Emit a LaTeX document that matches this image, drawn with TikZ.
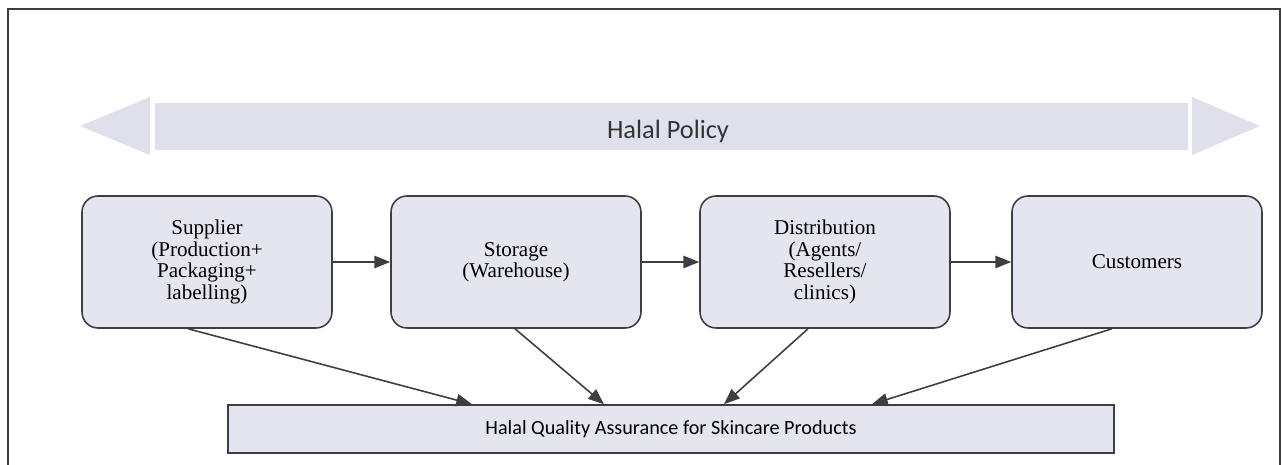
\documentclass[tikz,border=0pt]{standalone}
\usepackage{fontspec}
\setmainfont{Liberation Serif}
\newfontfamily\calfont{Carlito}
\usetikzlibrary{arrows.meta}

\definecolor{boxfill}{RGB}{229,229,240}
\definecolor{bandfill}{RGB}{224,224,237}
\definecolor{edgegray}{RGB}{62,62,66}

\tikzset{
  stage/.style={draw=edgegray, fill=boxfill, line width=0.9pt, rounded corners=0.32cm,
    minimum width=5cm, minimum height=2.64cm, align=center,
    font=\fontsize{12}{12.2}\selectfont},
  qabox/.style={draw=edgegray, fill=boxfill, line width=0.9pt,
    minimum width=17.72cm, minimum height=0.96cm, font=\calfont\fontsize{11.5}{13}\selectfont},
  link/.style={draw=edgegray, line width=0.9pt, -{Triangle[length=9pt, width=7pt]}}
}

\begin{document}
\begin{tikzpicture}[x=0.02cm, y=-0.02cm]
  \useasboundingbox (0,0) rectangle (1282,465);

  % frame
  \draw[edgegray, line width=0.9pt] (8,475) -- (8,9) -- (1280,9) -- (1280,475);

  % policy band
  \fill[bandfill] (80,126) -- (150,97) -- (150,155) -- cycle;
  \fill[bandfill] (155,103) rectangle (1188,150);
  \fill[bandfill] (1192,97) -- (1260,126) -- (1192,155) -- cycle;
  \node[font=\calfont\fontsize{15}{17}\selectfont, text=black!80] (policy) at (668,131) {Halal Policy};

  % chain stages
  \node[stage] (s1) at (207,262) {Supplier\\(Production+\\Packaging+\\labelling)};
  \node[stage] (s2) at (516,262) {Storage\\(Warehouse)};
  \node[stage] (s3) at (825,262) {Distribution\\(Agents/\\Resellers/\\clinics)};
  \node[stage] (s4) at (1137,262) {Customers};

  % assurance
  \node[qabox] (qa) at (671,429) {Halal Quality Assurance for Skincare Products};

  % flow
  \foreach \i/\j in {1/2, 2/3, 3/4} {
    \draw[link] (s\i) -- (s\j);
  }

  % into assurance
  \foreach \i/\a/\b in {1/-0.38/-3.98, 2/-0.02/-1.34, 3/-0.34/1.06, 4/-0.5/4.02} {
    \draw[link] ([xshift=\a cm]s\i.south) -- ([xshift=\b cm]qa.north);
  }
\end{tikzpicture}
\end{document}
